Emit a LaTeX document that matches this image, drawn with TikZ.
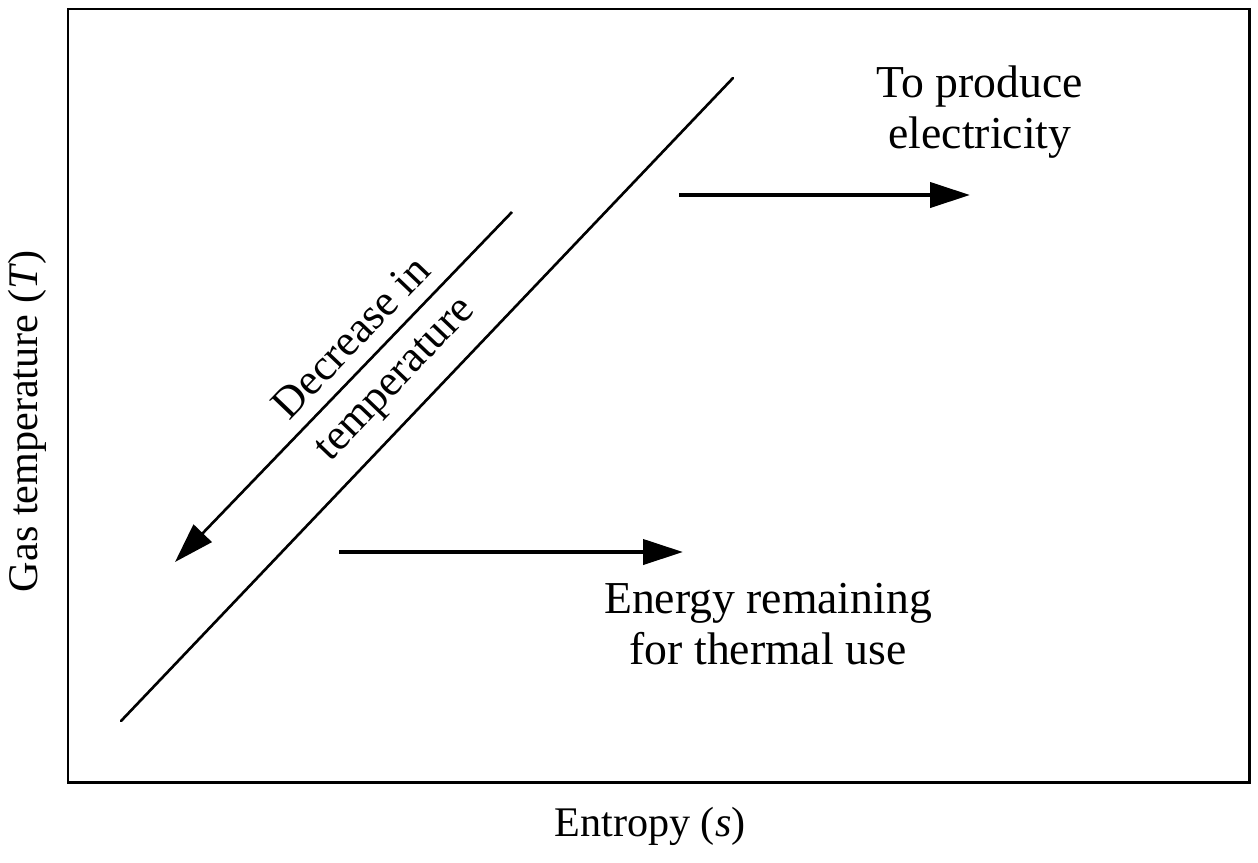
\documentclass[tikz,border=0pt]{standalone}
\usepackage{fontspec}
\setmainfont{Liberation Serif}
\usetikzlibrary{arrows.meta}
\begin{document}
\begin{tikzpicture}[x=0.1mm,y=-0.1mm,
  lbl/.style={font=\fontsize{13}{14.5}\selectfont, align=center, inner sep=0pt},
  rlbl/.style={font=\fontsize{12.5}{16.5}\selectfont, align=center, inner sep=0pt},
  axlbl/.style={font=\fontsize{12}{14}\selectfont, inner sep=0pt},
  thinline/.style={line width=0.75pt, line cap=round},
  fatarrow/.style={line width=1.15pt, -{Triangle[length=4mm,width=2.5mm]}},
  diagarrow/.style={line width=0.75pt, -{Triangle[length=4mm,width=2.5mm]}}]
\useasboundingbox (0,0) rectangle (1258,862);
\draw[line width=0.85pt] (68,9) rectangle (1249,782);
% main diagonal
\coordinate (mlo) at (121,721);
\coordinate (mhi) at (733,78);
\draw[thinline] (mlo) -- (mhi);
% decrease arrow
\coordinate (dhi) at (512,212);
\coordinate (dlo) at (175,562);
\draw[diagarrow] (dhi) -- (dlo);
% horizontal arrows
\coordinate (a1s) at (679,195);
\coordinate (a1e) at (970,195);
\draw[fatarrow] (a1s) -- (a1e);
\coordinate (a2s) at (339,552);
\coordinate (a2e) at (683,552);
\draw[fatarrow] (a2s) -- (a2e);
% labels
\node[lbl] (elec) at (980,112) {To produce\\electricity};
\node[lbl] (therm) at (768,624) {Energy remaining\\for thermal use};
\node[rlbl, rotate=46.3] (dec) at (375,360) {Decrease in\\temperature};
\node[axlbl, rotate=90] (ylab) at (27,421) {Gas temperature (\textit{T})};
\node[axlbl] (xlab) at (650,826) {Entropy (\textit{s})};
\end{tikzpicture}
\end{document}
